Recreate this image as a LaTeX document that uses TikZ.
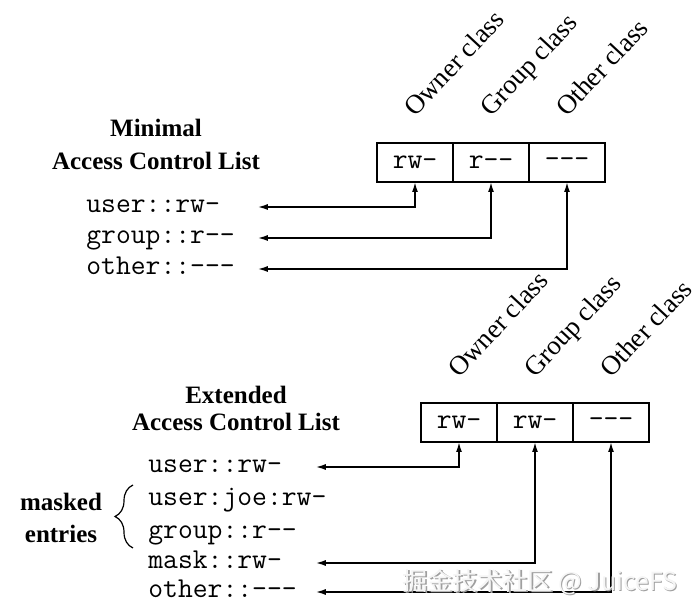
\documentclass[tikz,border=0pt]{standalone}
\usepackage{fontspec}
\setmainfont{Liberation Serif}
\newfontfamily\wmfont{Noto Sans CJK SC}
\usetikzlibrary{arrows.meta,positioning,decorations.pathreplacing}
\newcommand{\acltt}{\ttfamily\fontsize{14.4}{17}\selectfont}
\tikzset{
  cell/.style={draw, line width=0.8pt, minimum width=38pt, minimum height=19.5pt, inner sep=0pt, outer sep=0pt, font=\acltt},
  cls/.style={rotate=47, anchor=base west, inner sep=0pt, font=\fontsize{13.5}{16}\selectfont},
  entry/.style={anchor=west, inner sep=0pt, text width=#1, text height=1.5ex, text depth=.25ex, font=\acltt},
  title/.style={align=center, inner sep=0pt, font=\bfseries\fontsize{12.5}{#1}\selectfont},
  link/.style={{Latex[length=5pt,width=3pt]}-{Latex[length=5pt,width=3pt]}, line width=0.8pt},
}
\begin{document}
\begin{tikzpicture}[x=0.5pt, y=0.5pt]
    \useasboundingbox (0,0) rectangle (692,-614);
    % minimal ACL
    \node[title=16.5pt] (mintitle) at (156,-144.5) {Minimal\\Access Control List};
    \node[cell] (minown) at (415,-162.5) {rw-};
    \node[cell, right=0pt of minown] (mingrp) {r-{}-};
    \node[cell, right=0pt of mingrp] (minoth) {-{}-{}-};
    \node[cls] at ([yshift=12.5pt]minown.north) {Owner class};
    \node[cls] at ([yshift=12.5pt]mingrp.north) {Group class};
    \node[cls] at ([yshift=12.5pt]minoth.north) {Other class};
    \node[entry=85.5pt] (minuser) at (86,-207) {user::rw-};
    \node[entry=85.5pt] (mingroup) at (86,-238) {group::r-{}-};
    \node[entry=85.5pt] (minother) at (86,-269) {other::-{}-{}-};
    \draw[link] (minown.south) |- (minuser.east);
    \draw[link] (mingrp.south) |- (mingroup.east);
    \draw[link] (minoth.south) |- (minother.east);
    % extended ACL
    \node[title=13.5pt] (exttitle) at (236,-408.5) {Extended\\Access Control List};
    \node[cell] (extown) at (459,-422.5) {rw-};
    \node[cell, right=0pt of extown] (extgrp) {rw-};
    \node[cell, right=0pt of extgrp] (extoth) {-{}-{}-};
    \node[cls] at ([yshift=12pt]extown.north) {Owner class};
    \node[cls] at ([yshift=12pt]extgrp.north) {Group class};
    \node[cls] at ([yshift=12pt]extoth.north) {Other class};
    \node[entry=83.5pt] (extuser) at (148,-467) {user::rw-};
    \node[entry=83.5pt] (extjoe) at (148,-500) {user:joe:rw-};
    \node[entry=83.5pt] (extgroup) at (148,-533) {group::r-{}-};
    \node[entry=83.5pt] (extmask) at (148,-563) {mask::rw-};
    \node[entry=83.5pt] (extother) at (148,-592) {other::-{}-{}-};
    \draw[link] (extown.south) |- (extuser.east);
    \draw[link] (extgrp.south) |- (extmask.east);
    \draw[link] (extoth.south) |- (extother.east);
    \node[title=16pt] (masked) at (61,-518) {masked\\entries};
    \draw[line width=0.6pt, decorate, decoration={brace, amplitude=9pt}] (133,-548) -- (133,-485);
    % watermark
    \node[text=gray!75, font=\wmfont\fontsize{12.5}{15}\selectfont] (wmshadow) at (541.5,-583.5) {掘金技术社区 @ JuiceFS};
    \node[text=gray!8, font=\wmfont\fontsize{12.5}{15}\selectfont] (wm) at (540,-582) {掘金技术社区 @ JuiceFS};
\end{tikzpicture}
\end{document}
